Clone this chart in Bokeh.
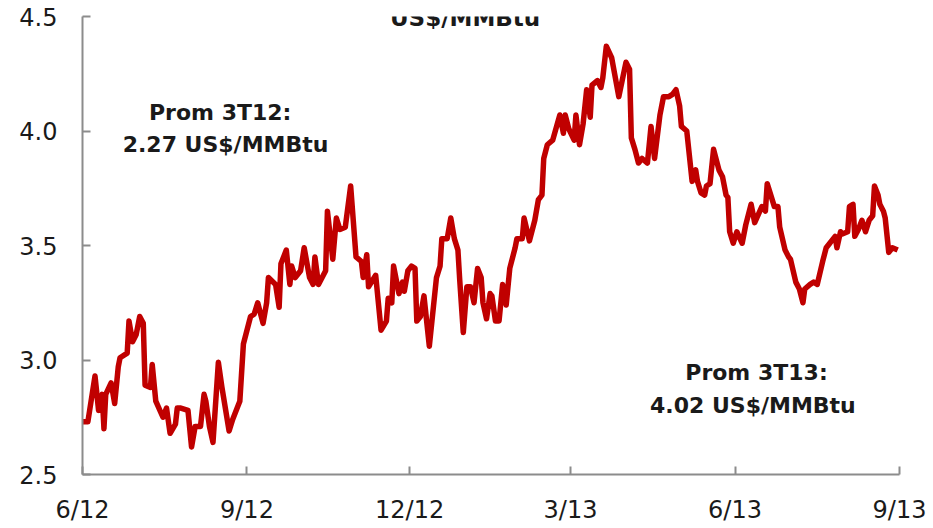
import pandas as pd
from bokeh.plotting import figure
from bokeh.models import Range1d, FixedTicker, NumeralTickFormatter, Label
from bokeh.embed import file_html
from bokeh.resources import INLINE

dates = [
    "2012-06-01", "2012-06-04", "2012-06-05", "2012-06-08", "2012-06-10", "2012-06-12", "2012-06-13",
    "2012-06-14", "2012-06-17", "2012-06-19", "2012-06-21", "2012-06-22", "2012-06-26", "2012-06-27",
    "2012-06-29", "2012-07-01", "2012-07-03", "2012-07-05", "2012-07-06", "2012-07-09", "2012-07-10",
    "2012-07-12", "2012-07-16", "2012-07-18", "2012-07-20", "2012-07-23", "2012-07-24", "2012-07-26",
    "2012-07-30", "2012-08-01", "2012-08-03", "2012-08-06", "2012-08-08", "2012-08-09", "2012-08-11",
    "2012-08-13", "2012-08-16", "2012-08-18", "2012-08-22", "2012-08-24", "2012-08-27", "2012-08-28",
    "2012-08-30", "2012-09-03", "2012-09-05", "2012-09-07", "2012-09-10", "2012-09-12", "2012-09-13",
    "2012-09-17", "2012-09-19", "2012-09-20", "2012-09-23", "2012-09-25", "2012-09-26", "2012-09-28",
    "2012-10-01", "2012-10-03", "2012-10-06", "2012-10-08", "2012-10-09", "2012-10-11", "2012-10-15",
    "2012-10-16", "2012-10-19", "2012-10-21", "2012-10-23", "2012-10-26", "2012-10-29", "2012-11-01",
    "2012-11-04", "2012-11-05", "2012-11-07", "2012-11-08", "2012-11-12", "2012-11-15", "2012-11-18",
    "2012-11-19", "2012-11-21", "2012-11-22", "2012-11-25", "2012-11-27", "2012-11-28", "2012-11-30",
    "2012-12-02", "2012-12-04", "2012-12-05", "2012-12-07", "2012-12-09", "2012-12-12", "2012-12-16",
    "2012-12-18", "2012-12-19", "2012-12-22", "2012-12-24", "2012-12-26", "2012-12-28", "2012-12-29",
    "2012-12-31", "2013-01-02", "2013-01-04", "2013-01-06", "2013-01-08", "2013-01-10", "2013-01-11",
    "2013-01-13", "2013-01-15", "2013-01-16", "2013-01-18", "2013-01-20", "2013-01-22", "2013-01-24",
    "2013-01-26", "2013-01-29", "2013-01-30", "2013-02-02", "2013-02-03", "2013-02-06", "2013-02-09",
    "2013-02-11", "2013-02-13", "2013-02-14", "2013-02-16", "2013-02-19", "2013-02-23", "2013-02-25",
    "2013-02-26", "2013-02-28", "2013-03-03", "2013-03-04", "2013-03-06", "2013-03-08", "2013-03-10",
    "2013-03-12", "2013-03-13", "2013-03-16", "2013-03-18", "2013-03-19", "2013-03-21", "2013-03-24",
    "2013-03-28", "2013-04-01", "2013-04-03", "2013-04-04", "2013-04-06", "2013-04-08", "2013-04-10",
    "2013-04-13", "2013-04-15", "2013-04-17", "2013-04-20", "2013-04-22", "2013-04-25", "2013-04-27",
    "2013-04-29", "2013-05-01", "2013-05-02", "2013-05-05", "2013-05-08", "2013-05-10", "2013-05-11",
    "2013-05-13", "2013-05-15", "2013-05-16", "2013-05-18", "2013-05-20", "2013-05-23", "2013-05-25",
    "2013-05-27", "2013-05-28", "2013-05-29", "2013-05-31", "2013-06-02", "2013-06-05", "2013-06-07",
    "2013-06-10", "2013-06-12", "2013-06-16", "2013-06-18", "2013-06-19", "2013-06-21", "2013-06-23",
    "2013-06-25", "2013-06-26", "2013-06-29", "2013-07-01", "2013-07-02", "2013-07-05", "2013-07-07",
    "2013-07-09", "2013-07-10", "2013-07-13", "2013-07-15", "2013-07-17", "2013-07-20", "2013-07-22",
    "2013-07-24", "2013-07-25", "2013-07-27", "2013-07-28", "2013-07-30", "2013-07-31", "2013-08-03",
    "2013-08-04", "2013-08-06", "2013-08-07", "2013-08-09", "2013-08-11", "2013-08-13", "2013-08-15",
    "2013-08-17", "2013-08-18", "2013-08-20", "2013-08-21", "2013-08-23", "2013-08-24", "2013-08-26",
    "2013-08-28", "2013-08-31",
]

prices = [
    2.73, 2.73, 2.78, 2.93, 2.78, 2.85, 2.70,
    2.85, 2.90, 2.81, 2.97, 3.01, 3.03, 3.17,
    3.08, 3.11, 3.19, 3.16, 2.89, 2.88, 2.98,
    2.82, 2.75, 2.79, 2.68, 2.72, 2.79, 2.79,
    2.78, 2.62, 2.71, 2.71, 2.85, 2.82, 2.71,
    2.64, 2.99, 2.88, 2.69, 2.74, 2.80, 2.82,
    3.07, 3.19, 3.20, 3.25, 3.16, 3.25, 3.36,
    3.33, 3.23, 3.42, 3.48, 3.33, 3.41, 3.36,
    3.39, 3.49, 3.36, 3.33, 3.45, 3.33, 3.39,
    3.65, 3.44, 3.62, 3.57, 3.58, 3.76, 3.45,
    3.43, 3.36, 3.46, 3.32, 3.37, 3.13, 3.17,
    3.27, 3.25, 3.41, 3.29, 3.34, 3.30, 3.39,
    3.41, 3.40, 3.17, 3.19, 3.28, 3.06, 3.36,
    3.41, 3.53, 3.53, 3.62, 3.53, 3.48, 3.35,
    3.12, 3.32, 3.32, 3.25, 3.40, 3.36, 3.25,
    3.18, 3.29, 3.28, 3.17, 3.17, 3.33, 3.24,
    3.40, 3.49, 3.53, 3.53, 3.62, 3.52, 3.61,
    3.70, 3.72, 3.88, 3.94, 3.96, 4.07, 3.99,
    4.07, 4.01, 3.96, 4.07, 3.94, 4.03, 4.18,
    4.06, 4.20, 4.22, 4.19, 4.23, 4.37, 4.32,
    4.15, 4.30, 4.27, 3.97, 3.92, 3.86, 3.88,
    3.86, 4.02, 3.88, 4.07, 4.15, 4.15, 4.16,
    4.18, 4.11, 4.02, 4.00, 3.78, 3.83, 3.78,
    3.73, 3.72, 3.76, 3.77, 3.92, 3.83, 3.80,
    3.72, 3.71, 3.56, 3.51, 3.56, 3.51, 3.59,
    3.68, 3.60, 3.67, 3.65, 3.77, 3.72, 3.67,
    3.67, 3.58, 3.48, 3.45, 3.44, 3.34, 3.31,
    3.25, 3.31, 3.33, 3.34, 3.33, 3.43, 3.49,
    3.51, 3.52, 3.54, 3.49, 3.56, 3.55, 3.56,
    3.67, 3.68, 3.54, 3.57, 3.61, 3.56, 3.61,
    3.63, 3.76, 3.72, 3.68, 3.65, 3.62, 3.47,
    3.49, 3.48,
]

tick_dates = ["2012-06-01", "2012-09-01", "2012-12-01", "2013-03-01", "2013-06-01", "2013-09-01"]
tick_labels = ["6/12", "9/12", "12/12", "3/13", "6/13", "9/13"]
y_ticks = [2.5, 3.0, 3.5, 4.0, 4.5]

title_text = "US$/MMBtu"
note1 = ["Prom 3T12:", "2.27 US$/MMBtu"]
note2 = ["Prom 3T13:", "4.02 US$/MMBtu"]

x = pd.to_datetime(dates)
tick_ms = [int(pd.Timestamp(d).value // 10**6) for d in tick_dates]

p = figure(width=933, height=528, output_backend="svg", toolbar_location=None,
           x_axis_type="datetime",
           x_range=Range1d(pd.Timestamp(tick_dates[0]), pd.Timestamp(tick_dates[-1])),
           y_range=Range1d(2.5, 4.5),
           min_border_left=82, min_border_right=34, min_border_top=16, min_border_bottom=54)
p.outline_line_color = None
p.xgrid.visible = False
p.ygrid.visible = False
p.background_fill_color = "white"
p.border_fill_color = "white"

p.line(x, prices, line_color="#c00000", line_width=5.5, line_join="round")

axis_col = "#8c8c8c"
for ax in (p.xaxis[0], p.yaxis[0]):
    ax.axis_line_color = axis_col
    ax.axis_line_width = 2
    ax.major_tick_line_color = axis_col
    ax.major_tick_line_width = 2
    ax.major_tick_in = 8
    ax.major_tick_out = 0
    ax.minor_tick_line_color = None
    ax.major_label_text_font = "DejaVu Sans"
    ax.major_label_text_font_size = "24px"
    ax.major_label_text_color = "#1a1a1a"

p.xaxis.ticker = FixedTicker(ticks=tick_ms)
p.xaxis.major_label_overrides = {t: l for t, l in zip(tick_ms, tick_labels)}
p.xaxis.major_label_standoff = 21
p.yaxis.ticker = FixedTicker(ticks=y_ticks)
p.yaxis.formatter = NumeralTickFormatter(format="0.0")
p.yaxis.major_label_standoff = 25

def add_label(xd, yv, txt, size="22px"):
    p.add_layout(Label(x=pd.Timestamp(xd), y=yv, text=txt, text_align="center",
                       text_baseline="alphabetic", text_font="DejaVu Sans",
                       text_font_style="bold", text_font_size=size, text_color="#1a1a1a"))

add_label("2013-01-01", 4.492, title_text, "23px")
add_label("2012-08-17", 4.08, note1[0])
add_label("2012-08-20", 3.94, note1[1])
add_label("2013-06-13", 2.945, note2[0])
add_label("2013-06-11", 2.80, note2[1])

open("out.html", "w").write(file_html(p, INLINE))
